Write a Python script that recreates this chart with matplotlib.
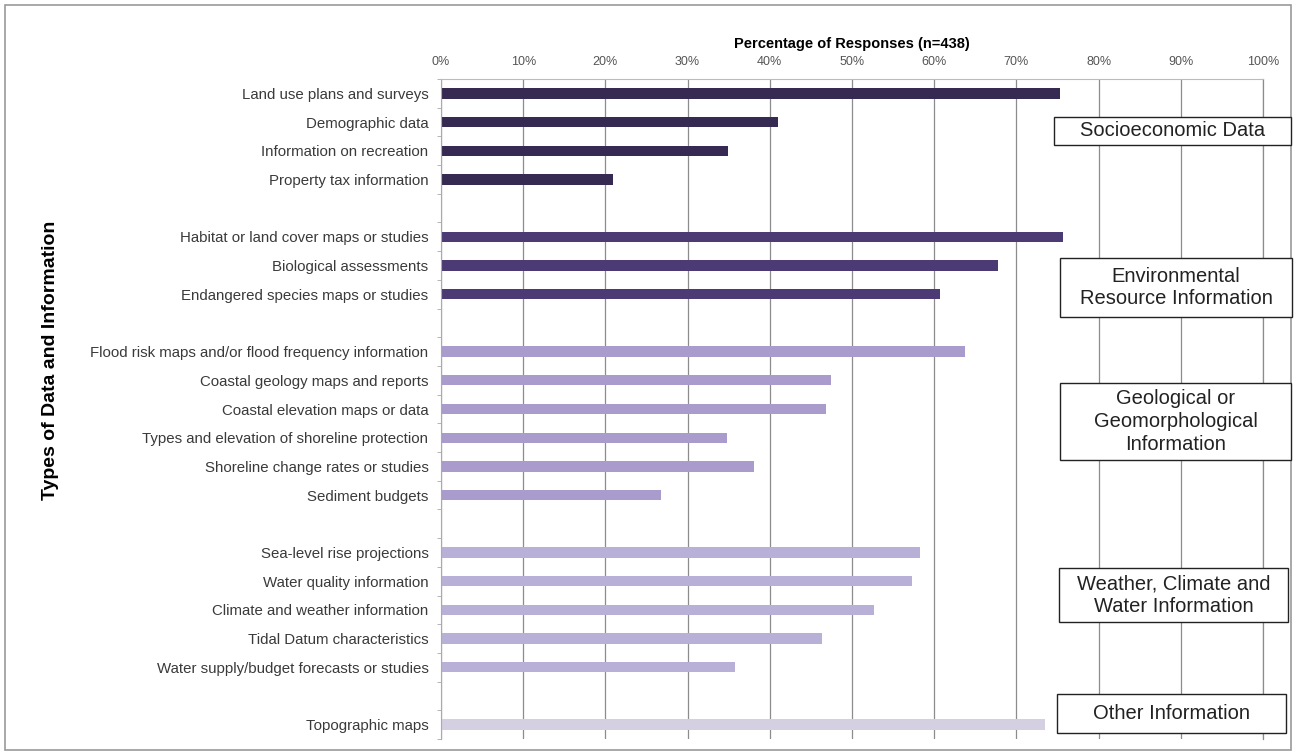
import numpy as np
import matplotlib.pyplot as plt
from matplotlib.patches import Rectangle

plt.rcParams['font.family'] = ['Liberation Sans', 'DejaVu Sans']

# categories, top to bottom ('' = blank spacer row between groups)
labels = ['Land use plans and surveys', 'Demographic data', 'Information on recreation',
          'Property tax information', '',
          'Habitat or land cover maps or studies', 'Biological assessments',
          'Endangered species maps or studies', '',
          'Flood risk maps and/or flood frequency information', 'Coastal geology maps and reports',
          'Coastal elevation maps or data', 'Types and elevation of shoreline protection',
          'Shoreline change rates or studies', 'Sediment budgets', '',
          'Sea-level rise projections', 'Water quality information',
          'Climate and weather information', 'Tidal Datum characteristics',
          'Water supply/budget forecasts or studies', '',
          'Topographic maps']
values = [75.3, 41, 34.9, 20.9, 0,
          75.7, 67.8, 60.7, 0,
          63.7, 47.4, 46.8, 34.8, 38.1, 26.8, 0,
          58.3, 57.3, 52.7, 46.4, 35.8, 0,
          73.5]
groups = ['socio'] * 5 + ['env'] * 4 + ['geo'] * 7 + ['weather'] * 6 + ['other']
group_colors = {'socio': '#372a52', 'env': '#4b3a74', 'geo': '#a99bcb',
                'weather': '#b9b0d8', 'other': '#d4d0e2'}
xticks = [0, 10, 20, 30, 40, 50, 60, 70, 80, 90, 100]

W, H = 1296, 755
fig = plt.figure(figsize=(W / 100, H / 100), dpi=100)
ax = fig.add_axes([441 / W, 1 - 739 / H, (1263 - 441) / W, (739 - 79) / H])

y = np.arange(len(labels))
colors = [group_colors[g] for g in groups]
ax.barh(y, values, height=0.36, color=colors, zorder=2)

ax.set_xlim(0, 100)
ax.set_ylim(len(labels) - 0.5, -0.5)
ax.set_xticks(xticks)
ax.set_xticklabels([f'{t}%' for t in xticks], fontsize=9, color='#555555')
ax.xaxis.tick_top()
ax.xaxis.set_label_position('top')
ax.tick_params(axis='x', length=0, pad=8)
ax.set_xlabel('Percentage of Responses (n=438)', fontsize=10.5, fontweight='bold', labelpad=6)

ax.set_yticks(y)
ax.set_yticklabels(labels, fontsize=10.8, color='#3a3a3a')
ax.tick_params(axis='y', length=0, pad=9)
ax.set_yticks(np.arange(len(labels) + 1) - 0.5, minor=True)
ax.tick_params(axis='y', which='minor', length=3, color='#aaaaaa')

ax.grid(axis='x', color='#8c8c8c', linewidth=0.9, zorder=1)
ax.axvline(100, color='#8c8c8c', linewidth=0.9, clip_on=False, zorder=1)
for s in ['right', 'bottom']:
    ax.spines[s].set_visible(False)
ax.spines['top'].set_color('#bbbbbb')
ax.spines['left'].set_color('#aaaaaa')

fig.text(51 / W, 1 - 360 / H, 'Types of Data and Information', rotation=90,
         fontsize=14, fontweight='bold', ha='center', va='center')

# group boxes: text, left, top, right, bottom (pixels)
boxes = [('Socioeconomic Data', 1054, 117, 1291, 145),
         ('Environmental\nResource Information', 1060, 258, 1292, 317),
         ('Geological or\nGeomorphological\nInformation', 1060, 383, 1291, 460),
         ('Weather, Climate and\nWater Information', 1059, 568, 1288, 622),
         ('Other Information', 1057, 694, 1286, 733)]
for txt, x0, y0, x1, y1 in boxes:
    fig.patches.append(Rectangle((x0 / W, 1 - y1 / H), (x1 - x0) / W, (y1 - y0) / H,
                                 transform=fig.transFigure, facecolor='white',
                                 edgecolor='#222222', linewidth=1.0, zorder=3))
    fig.text((x0 + x1) / 2 / W, 1 - (y0 + y1) / 2 / H, txt, ha='center', va='center',
             fontsize=14.5, color='#222222', linespacing=1.25, zorder=4)

fig.patches.append(Rectangle((5 / W, 5 / H), 1286 / W, 745 / H, transform=fig.transFigure,
                             fill=False, edgecolor='#999999', linewidth=1.2))

fig.savefig('out.png', dpi=100)
